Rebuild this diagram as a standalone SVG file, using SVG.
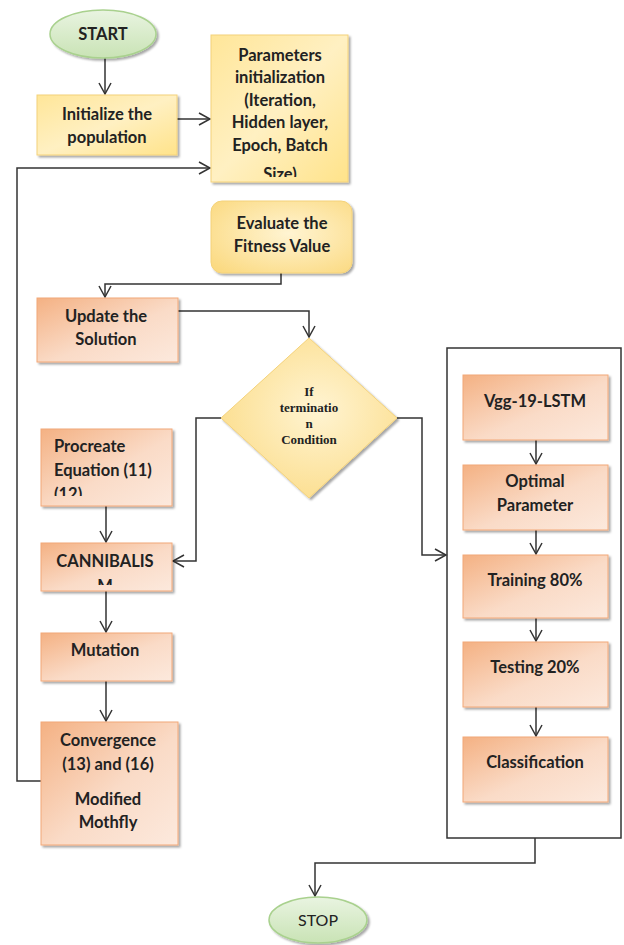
<svg xmlns="http://www.w3.org/2000/svg" width="624" height="945" viewBox="0 0 624 945">
<defs>
<linearGradient id="gy" x1="0" y1="0" x2="1" y2="1">
<stop offset="0" stop-color="#FFE699"/><stop offset="0.5" stop-color="#FFF0C2"/><stop offset="1" stop-color="#FFE38A"/>
</linearGradient>
<radialGradient id="gyd" cx="0.55" cy="0.45" r="0.7">
<stop offset="0" stop-color="#FFF4D2"/><stop offset="1" stop-color="#FBDA82"/>
</radialGradient>
<linearGradient id="go" x1="0" y1="0" x2="1" y2="1">
<stop offset="0" stop-color="#F4B183"/><stop offset="0.55" stop-color="#FADBC7"/><stop offset="1" stop-color="#FCE9DD"/>
</linearGradient>
<linearGradient id="gg" x1="0" y1="0" x2="0" y2="1">
<stop offset="0" stop-color="#E9F4E1"/><stop offset="1" stop-color="#C9E3B5"/>
</linearGradient>
<filter id="sh" x="-10%" y="-10%" width="125%" height="125%">
<feDropShadow dx="2" dy="2" stdDeviation="1.2" flood-color="#000" flood-opacity="0.35"/>
</filter>
<marker id="ar" markerUnits="userSpaceOnUse" markerWidth="14" markerHeight="14" viewBox="0 0 14 14" refX="12" refY="7" orient="auto">
<path d="M1,1 L12,7 L1,13" fill="none" stroke="#333" stroke-width="1.5"/>
</marker>
<clipPath id="cpParam"><rect x="211" y="35" width="137" height="142"/></clipPath>
<clipPath id="cpProc"><rect x="41" y="429" width="131" height="67"/></clipPath>
<clipPath id="cpCann"><rect x="41" y="543" width="131" height="42"/></clipPath>
</defs>
<style>
.t{font-family:Lato,"Open Sans","Liberation Sans",sans-serif;font-weight:bold;font-size:16.5px;fill:#222;text-anchor:middle}
.tl{text-anchor:start}
.d{font-family:"Liberation Serif","Times New Roman",serif;font-weight:bold;font-size:13px;fill:#222;text-anchor:middle}
.s{font-family:Lato,"Open Sans","Liberation Sans",sans-serif;font-size:16px;fill:#222;text-anchor:middle}
.y{fill:url(#gy);stroke:#F4D27A;stroke-width:1;filter:url(#sh)}
.o{fill:url(#go);stroke:#F2A878;stroke-width:1;filter:url(#sh)}
.g{fill:url(#gg);stroke:#A9D18E;stroke-width:1.5;filter:url(#sh)}
.c{fill:none;stroke:#333;stroke-width:1.5}
</style>
<rect width="624" height="945" fill="#fff"/>

<g id="container">
<rect x="447" y="348" width="174" height="490" fill="#fff" stroke="#333" stroke-width="1.5"/>
</g>

<g id="connectors">
<path class="c" d="M105,58 V94" marker-end="url(#ar)"/>
<path class="c" d="M177,119 H210" marker-end="url(#ar)"/>
<path class="c" d="M41,781 H17 V168 H210" marker-end="url(#ar)"/>
<path class="c" d="M281,273 V284 H105 V297" marker-end="url(#ar)"/>
<path class="c" d="M178,311 H309 V337" marker-end="url(#ar)"/>
<path class="c" d="M221,418 H196 V561 H173" marker-end="url(#ar)"/>
<path class="c" d="M397,418 H422 V555 H446" marker-end="url(#ar)"/>
<path class="c" d="M106,506 V542" marker-end="url(#ar)"/>
<path class="c" d="M106,591 V632" marker-end="url(#ar)"/>
<path class="c" d="M106,681 V721" marker-end="url(#ar)"/>
<path class="c" d="M536,440 V464" marker-end="url(#ar)"/>
<path class="c" d="M536,530 V554" marker-end="url(#ar)"/>
<path class="c" d="M536,618 V641" marker-end="url(#ar)"/>
<path class="c" d="M536,707 V736" marker-end="url(#ar)"/>
<path class="c" d="M535,838 V863 H315 V896" marker-end="url(#ar)"/>
</g>

<g id="start">
<ellipse class="g" cx="103" cy="34" rx="53" ry="24"/>
<text class="t" x="103" y="40">START</text>
</g>

<g id="init">
<rect class="y" x="37" y="95" width="140" height="60"/>
<text class="t" x="107" y="120">Initialize the</text>
<text class="t" x="107" y="143">population</text>
</g>

<g id="params">
<rect class="y" x="211" y="35" width="137" height="147"/>
<g clip-path="url(#cpParam)">
<text class="t" x="280" y="61">Parameters</text>
<text class="t" x="280" y="83">initialization</text>
<text class="t" x="280" y="106">(Iteration,</text>
<text class="t" x="280" y="128">Hidden layer,</text>
<text class="t" x="280" y="151">Epoch, Batch</text>
<text class="t" x="280" y="180">Size)</text>
</g>
</g>

<g id="evaluate">
<rect x="211" y="201" width="141" height="72" rx="11" fill="url(#gyd)" stroke="#F4D27A" filter="url(#sh)"/>
<text class="t" x="282" y="229">Evaluate the</text>
<text class="t" x="282" y="252">Fitness Value</text>
</g>

<g id="update">
<rect class="o" x="37" y="298" width="141" height="64"/>
<text class="t" x="106" y="322">Update the</text>
<text class="t" x="106" y="345">Solution</text>
</g>

<g id="decision">
<polygon points="309,338 397,418 309,498 221,418" fill="url(#gyd)" stroke="#F4D27A" filter="url(#sh)"/>
<text class="d" x="309" y="396">If</text>
<text class="d" x="309" y="412">terminatio</text>
<text class="d" x="309" y="428">n</text>
<text class="d" x="309" y="444">Condition</text>
</g>

<g id="procreate">
<rect class="o" x="41" y="429" width="131" height="77"/>
<g clip-path="url(#cpProc)">
<text class="t tl" x="54" y="452">Procreate</text>
<text class="t tl" x="54" y="476">Equation (11)</text>
<text class="t tl" x="54" y="500">(12)</text>
</g>
</g>

<g id="cannibalism">
<rect class="o" x="41" y="543" width="131" height="48"/>
<g clip-path="url(#cpCann)">
<text class="t" x="105" y="567">CANNIBALIS</text>
<text class="t" x="105" y="592">M</text>
</g>
</g>

<g id="mutation">
<rect class="o" x="41" y="633" width="131" height="48"/>
<text class="t" x="105" y="656">Mutation</text>
</g>

<g id="convergence">
<rect class="o" x="41" y="722" width="137" height="123"/>
<text class="t" x="108" y="746">Convergence</text>
<text class="t" x="108" y="770">(13) and (16)</text>
<text class="t" x="108" y="805">Modified</text>
<text class="t" x="108" y="828">Mothfly</text>
</g>

<g id="vgg">
<rect class="o" x="463" y="375" width="145" height="65"/>
<text class="t" x="535" y="407">Vgg-19-LSTM</text>
</g>
<g id="optimal">
<rect class="o" x="463" y="465" width="145" height="65"/>
<text class="t" x="535" y="487">Optimal</text>
<text class="t" x="535" y="511">Parameter</text>
</g>
<g id="training">
<rect class="o" x="463" y="555" width="145" height="63"/>
<text class="t" x="535" y="586">Training 80%</text>
</g>
<g id="testing">
<rect class="o" x="463" y="642" width="145" height="65"/>
<text class="t" x="535" y="673">Testing 20%</text>
</g>
<g id="classification">
<rect class="o" x="463" y="737" width="145" height="65"/>
<text class="t" x="535" y="768">Classification</text>
</g>

<g id="stop">
<ellipse class="g" cx="318" cy="920" rx="49" ry="23"/>
<text class="s" x="318" y="926">STOP</text>
</g>
</svg>
